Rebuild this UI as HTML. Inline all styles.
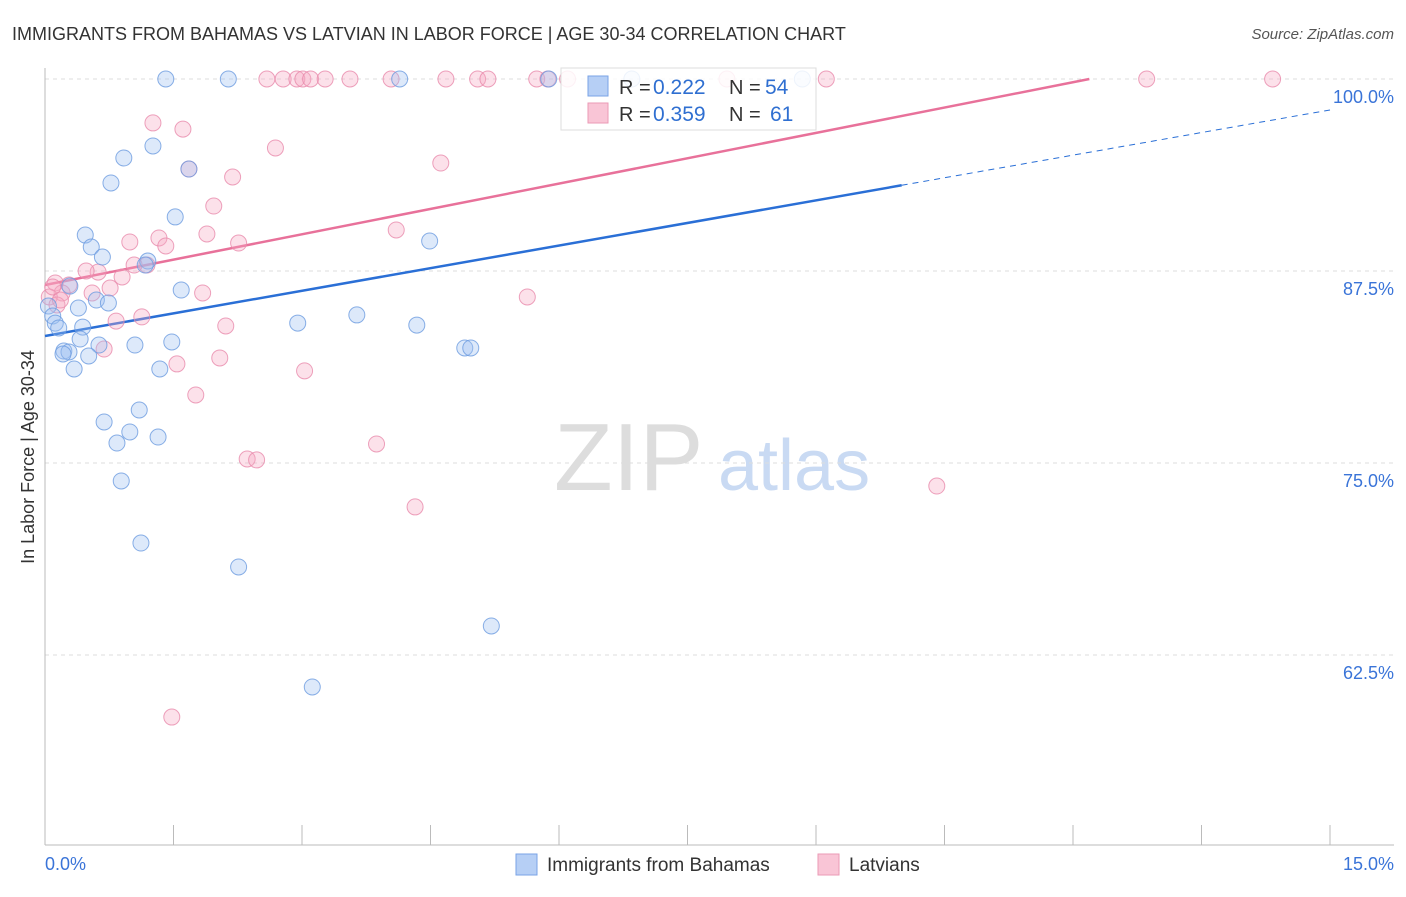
<!DOCTYPE html>
<html><head><meta charset="utf-8"><style>
body{margin:0;background:#fff;font-family:"Liberation Sans",sans-serif;}
svg text{font-family:"Liberation Sans",sans-serif;}
</style></head><body>
<svg id="chart" width="1406" height="892" xmlns="http://www.w3.org/2000/svg">
<text x="12" y="40" font-size="18" fill="#333">IMMIGRANTS FROM BAHAMAS VS LATVIAN IN LABOR FORCE | AGE 30-34 CORRELATION CHART</text>
<text x="1394" y="39" font-size="15" fill="#555" text-anchor="end" font-style="italic">Source: ZipAtlas.com</text>
<text transform="translate(34,457) rotate(-90)" font-size="18" fill="#333" text-anchor="middle">In Labor Force | Age 30-34</text>
<text x="554" y="490" font-size="96" fill="#ddd" font-family="Liberation Serif">ZIP</text>
<text x="718" y="490" font-size="72" fill="#c9daf3">atlas</text>
<g id="grid"></g><g id="axes"></g><g id="lines"></g><g id="pts"></g>
<g>
<rect x="561" y="68" width="255" height="62" fill="#fff" fill-opacity="0.85" stroke="#ddd"/>
<rect x="588" y="76" width="20" height="20" fill="#b6cff5" stroke="#7aa3e6"/>
<rect x="588" y="103" width="20" height="20" fill="#f9c5d6" stroke="#eb9ab6"/>
<text x="619" y="94" font-size="20" fill="#333">R =</text>
<text x="653" y="94" font-size="21" fill="#2f6fd1">0.222</text>
<text x="729" y="94" font-size="20" fill="#333">N =</text>
<text x="765" y="94" font-size="21" fill="#2f6fd1">54</text>
<text x="619" y="121" font-size="20" fill="#333">R =</text>
<text x="653" y="121" font-size="21" fill="#2f6fd1">0.359</text>
<text x="729" y="121" font-size="20" fill="#333">N =</text>
<text x="770" y="121" font-size="21" fill="#2f6fd1">61</text>
</g>
<g>
<rect x="516" y="854" width="21" height="21" fill="#b6cff5" stroke="#7aa3e6"/>
<text x="547" y="871" font-size="19" fill="#333">Immigrants from Bahamas</text>
<rect x="818" y="854" width="21" height="21" fill="#f9c5d6" stroke="#eb9ab6"/>
<text x="849" y="871" font-size="19" fill="#333">Latvians</text>
</g>
<text x="45" y="870" font-size="18" fill="#3a74d8">0.0%</text>
<text x="1394" y="870" font-size="18" fill="#3a74d8" text-anchor="end">15.0%</text>
</svg>
<script>
const yTicks=[100,87.5,75,62.5];
const yTickLabels=["100.0%","87.5%","75.0%","62.5%"];
const xTicks=[0,1.5,3,4.5,6,7.5,9,10.5,12,13.5,15];
const blueX=[1.41,2.14,4.14,5.88,6.85,8.84,1.26,0.92,0.77,1.68,1.52,0.47,0.54,0.67,1.20,1.17,4.49,1.59,0.29,0.60,0.74,0.39,0.04,0.09,0.12,0.16,0.44,0.41,0.63,1.05,1.48,2.95,3.64,4.34,0.22,0.28,0.51,0.21,0.34,1.34,4.90,4.97,1.10,0.69,0.99,1.32,0.84,0.89,1.12,2.26,5.21,3.12];
const blueY=[100,100,100,100,100,100,95.64,94.86,93.23,94.14,91.02,89.84,89.06,88.41,88.15,87.89,89.45,86.26,86.52,85.61,85.42,85.09,85.22,84.57,84.11,83.79,83.85,83.07,82.68,82.68,82.88,84.11,84.64,83.98,82.29,82.23,81.97,82.10,81.12,81.12,82.49,82.49,78.45,77.67,77.02,76.69,76.30,73.83,69.79,68.23,64.39,60.42];
const pinkX=[2.59,2.78,2.94,3.01,3.10,3.27,3.56,4.04,4.68,5.05,5.17,5.74,5.87,6.10,7.96,9.12,12.86,14.33,1.26,1.61,2.69,1.68,2.19,4.62,1.97,1.89,1.33,0.99,1.41,2.26,4.10,1.19,1.04,0.90,0.62,0.48,0.12,0.28,0.20,0.05,0.14,0.76,0.55,1.84,5.63,1.13,0.83,2.11,0.69,2.04,1.54,3.03,1.76,3.87,2.36,2.47,4.32,10.41,1.48,0.09,0.18];
const pinkY=[100,100,100,100,100,100,100,100,100,100,100,100,100,100,100,100,100,100,97.14,96.74,95.51,94.14,93.62,94.53,91.73,89.91,89.65,89.39,89.13,89.32,90.17,87.89,87.89,87.11,87.43,87.50,86.72,86.59,86.07,85.81,85.29,86.39,86.07,86.07,85.81,84.51,84.24,83.92,82.42,81.84,81.45,81.00,79.43,76.24,75.26,75.20,72.14,73.50,58.46,86.46,85.61];
const trendIntercepts=[83.27,86.59];
const trendSlopes=[0.981,1.10];
const NS="http://www.w3.org/2000/svg";
const X=v=>45+v/15*1285, Y=v=>79+(100-v)*15.36;
function mk(tag,attrs,parent){const e=document.createElementNS(NS,tag);for(const k in attrs)e.setAttribute(k,attrs[k]);document.getElementById(parent).appendChild(e);return e;}
yTicks.forEach((t,i)=>{
 const l=mk('line',{x1:45,x2:1394,y1:Y(t),y2:Y(t),stroke:'#ddd','stroke-dasharray':'4,4'},'grid');
 
 
 const tx=mk('text',{x:1394,y:Y(t)+24,'font-size':18,fill:'#3a74d8','text-anchor':'end'},'grid');tx.textContent=yTickLabels[i];
 
 
});
const ax=mk('line',{x1:45,x2:45,y1:68,y2:845,stroke:'#bbb'},'axes');


const bx=mk('line',{x1:45,x2:1394,y1:845,y2:845,stroke:'#bbb'},'axes');


xTicks.forEach(t=>{const l=mk('line',{x1:X(t),x2:X(t),y1:825,y2:845,stroke:'#bbb'},'axes');
 
 });
function pts(xs,ys,fill,stroke,name){xs.forEach((x,i)=>{const c=mk('circle',{cx:X(x),cy:Y(ys[i]),r:8,fill:fill,'fill-opacity':0.35,stroke:stroke,'stroke-opacity':0.8,'stroke-width':1},'pts');
 
 });}
pts(pinkX,pinkY,'#f5a9c2','#e98aab','latvians-point');
pts(blueX,blueY,'#9dbff2','#6b9be0','bahamas-point');
const b0=trendIntercepts[0],b1=trendSlopes[0];
const bl=mk('line',{x1:X(0),y1:Y(b0),x2:X(10),y2:Y(b0+b1*10),stroke:'#2a6fd6','stroke-width':2.5},'lines');


const bd=mk('line',{x1:X(10),y1:Y(b0+b1*10),x2:X(15),y2:Y(b0+b1*15),stroke:'#2a6fd6','stroke-width':1,'stroke-dasharray':'6,5'},'lines');


const p0=trendIntercepts[1],p1=trendSlopes[1];
const xe=(100-p0)/p1;
const pl=mk('line',{x1:X(0),y1:Y(p0),x2:X(xe),y2:Y(100),stroke:'#e8719a','stroke-width':2.5},'lines');


</script>
</body></html>
